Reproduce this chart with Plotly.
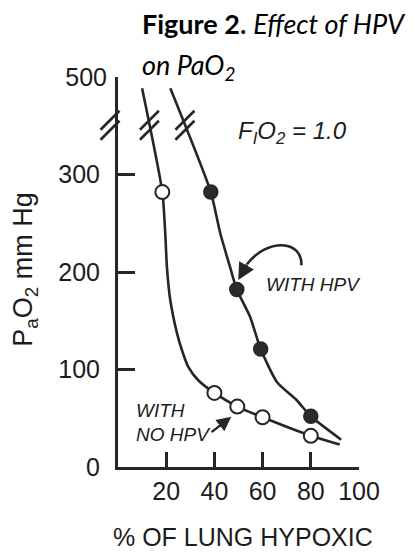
import numpy as np
import plotly.graph_objects as go

# ---------------- data ----------------
# measured points: % of lung hypoxic  vs  PaO2 (mm Hg)
no_hpv_x = [18.4, 40, 49.5, 60, 80]
no_hpv_y = [282, 76, 62, 51, 32]
hpv_x = [38.5, 49.3, 59.2, 80]
hpv_y = [282, 182, 121, 52]

# traced curves (top parts run above the axis break)
no_hpv_curve_x = [10.0, 18.4, 19.6, 20.3, 21.7, 24.5, 26.5, 29.1, 33.3, 40, 49.5, 60, 80, 92]
no_hpv_curve_y = [477, 282, 240, 205, 171, 137, 120, 103, 89, 76, 62, 51, 32, 23]
hpv_curve_x = [21.7, 38.5, 42.4, 46.5, 49.3, 54.8, 59.2, 66.0, 74.0, 80, 92.6]
hpv_curve_y = [477, 282, 240, 205, 182, 154, 121, 87, 69, 52, 28]

y_tick_vals = [0, 100, 200, 300]
y_tick_top = [500]
x_tick_vals = [20, 40, 60, 80, 100]
BREAK_FROM = 300      # axis compressed above this value
BREAK_MARK = 400      # where the // marks sit
Y_RANGE = [0, 400]

LC = "#262626"
TC = "#1c1c1c"
SANS = "Liberation Sans, Arial, sans-serif"


def brk(v):
    v = np.asarray(v, dtype=float)
    return np.where(v <= BREAK_FROM, v, BREAK_FROM + (v - BREAK_FROM) * 0.5)


fig = go.Figure()

for cx, cy in [(no_hpv_curve_x, no_hpv_curve_y), (hpv_curve_x, hpv_curve_y)]:
    fig.add_trace(go.Scatter(x=cx, y=brk(cy), mode="lines",
                             line=dict(color=LC, width=2.6, shape="spline", smoothing=0.6),
                             hoverinfo="skip"))

fig.add_trace(go.Scatter(x=no_hpv_x, y=brk(no_hpv_y), mode="markers",
                         marker=dict(size=14, color="white", line=dict(color=LC, width=2)),
                         name="With no HPV"))
fig.add_trace(go.Scatter(x=hpv_x, y=brk(hpv_y), mode="markers",
                         marker=dict(size=14, color="#2b2b2b", line=dict(color=LC, width=1.5)),
                         name="With HPV"))
# trace for the secondary (top tick) axis
fig.add_trace(go.Scatter(x=[None], y=[None], yaxis="y2", mode="markers", showlegend=False))

# ---- break marks (//) on axis and on both curves ----
yb = float(brk(BREAK_MARK))
slash_pairs = [(-4, 15), (-14, 5)]
# on the y axis (paper refs so they are not clipped by the plot area)
for y0, y1 in slash_pairs:
    fig.add_shape(type="line", xref="paper", yref="paper", xsizemode="pixel", ysizemode="pixel",
                  xanchor=0, yanchor=(yb - Y_RANGE[0]) / (Y_RANGE[1] - Y_RANGE[0]),
                  x0=-17.5, x1=1.5, y0=y0, y1=y1,
                  line=dict(color=LC, width=2.6), layer="above")
# on both curves
for cx, cy in [(no_hpv_curve_x, no_hpv_curve_y), (hpv_curve_x, hpv_curve_y)]:
    dy = brk(cy)
    ax_x = float(np.interp(yb, dy[::-1], np.asarray(cx)[::-1]))
    for y0, y1 in slash_pairs:
        fig.add_shape(type="line", xref="x", yref="y", xsizemode="pixel", ysizemode="pixel",
                      xanchor=ax_x, yanchor=yb, x0=-9.5, x1=9.5, y0=y0, y1=y1,
                      line=dict(color=LC, width=2.6), layer="above")

# ---- curved arrow to WITH HPV ----
fig.add_shape(type="path", xref="x", yref="y",
              path="M 76.1,207 C 76.5,233 62,235 53.5,208",
              line=dict(color=LC, width=2.6))
fig.add_annotation(x=49.9, y=191.8, ax=53.8, ay=209, xref="x", yref="y", axref="x", ayref="y",
                   text="", showarrow=True, arrowhead=2, arrowsize=1.3, arrowwidth=2.6,
                   arrowcolor=LC)
# ---- straight arrow to WITH NO HPV ----
fig.add_annotation(x=47.0, y=51.5, ax=38.2, ay=34.6, xref="x", yref="y", axref="x", ayref="y",
                   text="", showarrow=True, arrowhead=2, arrowsize=1.2, arrowwidth=2.4,
                   arrowcolor=LC)

ann_font = dict(family=SANS, size=19, color=TC)
fig.add_annotation(x=81, y=187.5, xref="x", yref="y", text="<i>WITH HPV</i>",
                   showarrow=False, font=ann_font, xanchor="center", yanchor="middle")
fig.add_annotation(x=6.6, y=58, xref="x", yref="y", text="<i>WITH</i>",
                   showarrow=False, font=ann_font, xanchor="left", yanchor="middle")
fig.add_annotation(x=6.6, y=33, xref="x", yref="y", text="<i>NO HPV</i>",
                   showarrow=False, font=ann_font, xanchor="left", yanchor="middle")
fig.add_annotation(x=72.5, y=343, xref="x", yref="y",
                   text="<i>F<sub>I</sub>O<sub>2</sub> = 1.0</i>",
                   showarrow=False, font=dict(family=SANS, size=24, color=TC),
                   xanchor="center", yanchor="middle")

# ---- axis titles ----
fig.add_annotation(x=-0.386, y=0.508, xref="paper", yref="paper", textangle=-90,
                   xanchor="center", yanchor="middle",
                   text="P<sub>a</sub>O<sub>2</sub> mm Hg", showarrow=False,
                   font=dict(family=SANS, size=27, color=TC))
fig.add_annotation(x=0.5207, y=-0.1795, xref="paper", yref="paper",
                   xanchor="center", yanchor="middle",
                   text="% OF LUNG HYPOXIC", showarrow=False,
                   font=dict(family=SANS, size=25, color=TC))

# ---- figure caption ----
TITLE = "Lato, Open Sans, sans-serif"
fig.add_annotation(x=0.09, y=1.136, xref="paper", yref="paper", xanchor="left", yanchor="middle",
                   text="<b>Figure 2.</b> <i>Effect of HPV</i>", showarrow=False,
                   font=dict(family=TITLE, size=27, color="#000"))
fig.add_annotation(x=0.09, y=1.026, xref="paper", yref="paper", xanchor="left", yanchor="middle",
                   text="<i>on PaO<sub>2</sub></i>", showarrow=False,
                   font=dict(family=TITLE, size=27, color="#000"))

fig.update_layout(
    width=414, height=556, margin=dict(l=118, r=55, t=77, b=89),
    plot_bgcolor="white", paper_bgcolor="white", showlegend=False,
    xaxis=dict(range=[0, 100], showline=True, linewidth=3, linecolor=LC,
               ticks="inside", ticklen=15, tickwidth=3, tickcolor=LC,
               tickvals=x_tick_vals, tickfont=dict(family=SANS, size=25, color=TC),
               ticklabelstandoff=0, showgrid=False, zeroline=False),
    yaxis=dict(range=Y_RANGE, showline=True, linewidth=3, linecolor=LC,
               ticks="inside", ticklen=17, tickwidth=3, tickcolor=LC,
               tickvals=list(brk(y_tick_vals)), ticktext=[str(v) for v in y_tick_vals],
               tickfont=dict(family=SANS, size=25, color=TC),
               ticklabelstandoff=10, showgrid=False, zeroline=False),
    yaxis2=dict(range=Y_RANGE, overlaying="y", side="left", showline=False,
                ticks="inside", ticklen=9, tickwidth=3, tickcolor=LC,
                tickvals=list(brk(y_tick_top)), ticktext=[str(v) for v in y_tick_top],
                tickfont=dict(family=SANS, size=25, color=TC),
                ticklabelstandoff=10, showgrid=False, zeroline=False),
)

fig.write_html("out.html", config={"displayModeBar": False},
               post_script="document.body.style.margin='0';document.body.style.overflow='hidden';")
